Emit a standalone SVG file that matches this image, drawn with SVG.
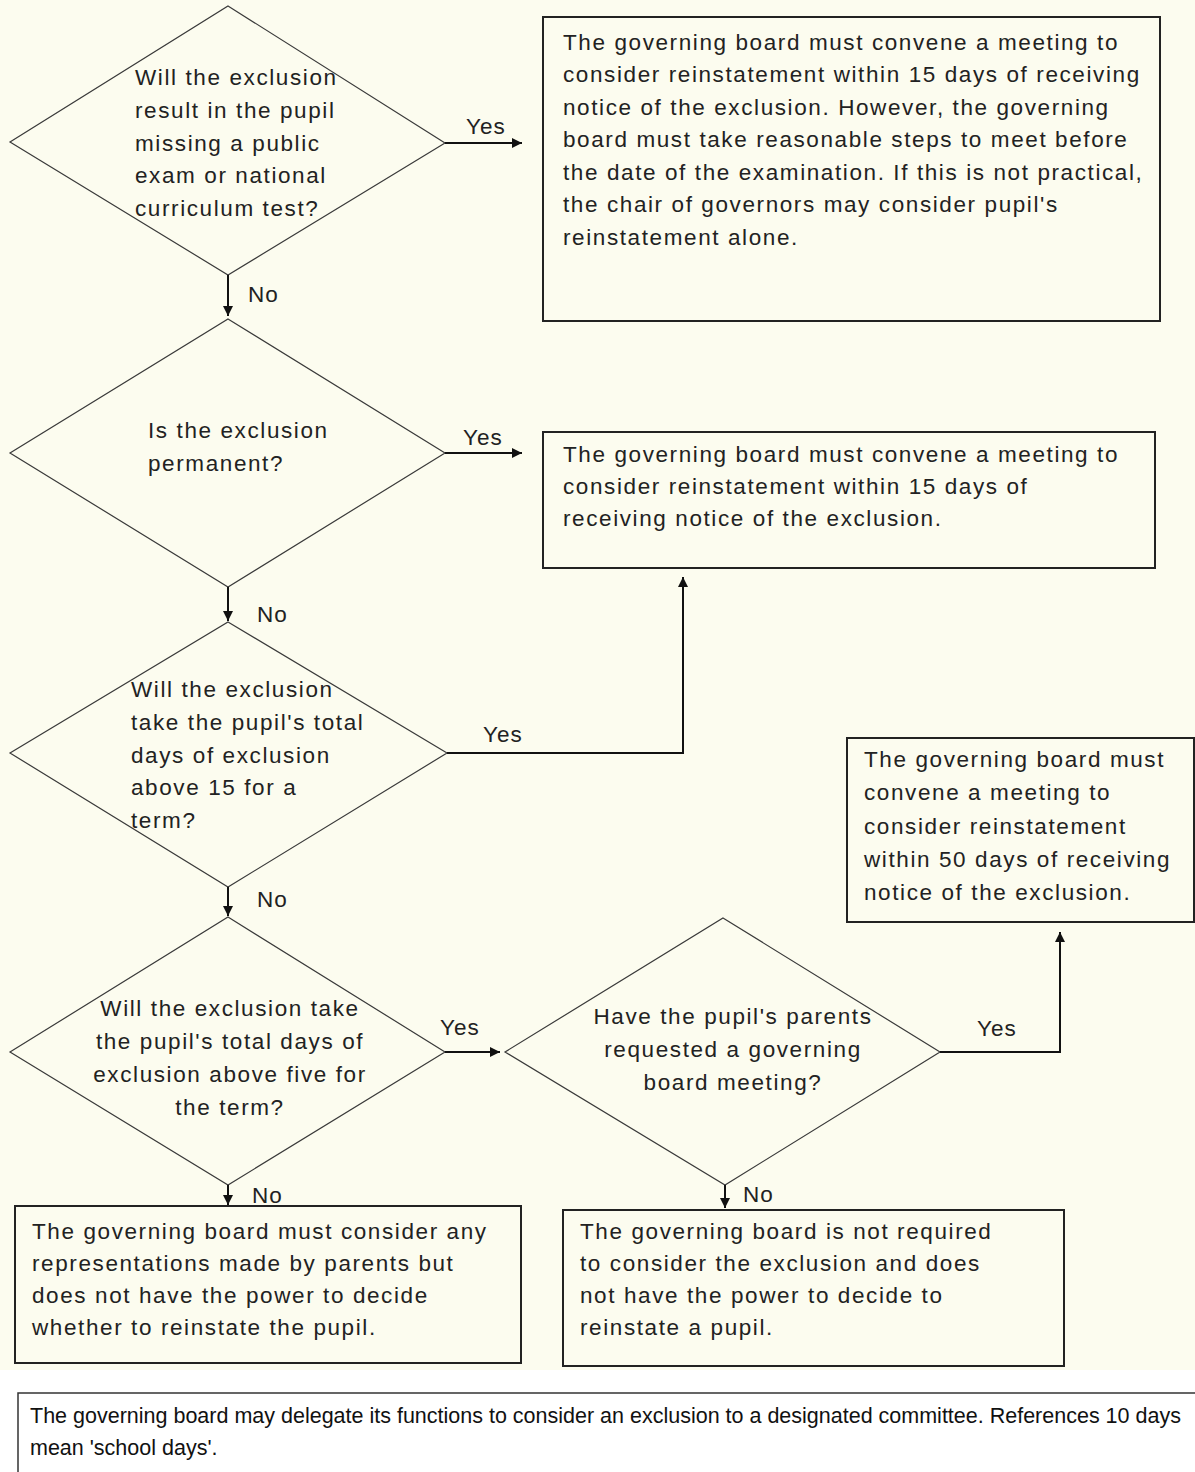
<svg xmlns="http://www.w3.org/2000/svg" width="1195" height="1472" viewBox="0 0 1195 1472">
<style>
.bg{fill:#fcfcef}
.dia{fill:none;stroke:#3a3a3a;stroke-width:1.2}
.box{fill:none;stroke:#222;stroke-width:2}
.t{font-family:"Liberation Sans",Arial,sans-serif;font-size:22.5px;letter-spacing:1.6px;fill:#222}
.c{text-anchor:middle}
.lbl{font-family:"Liberation Sans",Arial,sans-serif;font-size:22.5px;letter-spacing:1px;fill:#222}
.conn{fill:none;stroke:#111;stroke-width:2}
.note{font-family:"Liberation Sans",Arial,sans-serif;font-size:21.5px;fill:#111}
</style>
<defs>
<marker id="ah" viewBox="0 0 10 10" refX="10" refY="5" markerWidth="5.5" markerHeight="5" orient="auto" markerUnits="strokeWidth">
<path d="M0,0 L10,5 L0,10 z" fill="#111"/>
</marker>
</defs>
<rect x="0" y="0" width="1195" height="1472" fill="#ffffff"/>
<rect class="bg" x="0" y="0" width="1195" height="1370"/>

<g id="d1">
<polygon class="dia" points="228,6 445,143 228,275 10,142"/>
<text class="t" x="135" y="85">Will the exclusion</text>
<text class="t" x="135" y="118">result in the pupil</text>
<text class="t" x="135" y="151">missing a public</text>
<text class="t" x="135" y="183">exam or national</text>
<text class="t" x="135" y="216">curriculum test?</text>
</g>

<g id="b1">
<rect class="box" x="543" y="17" width="617" height="304"/>
<text class="t" x="563" y="50">The governing board must convene a meeting to</text>
<text class="t" x="563" y="82">consider reinstatement within 15 days of receiving</text>
<text class="t" x="563" y="115">notice of the exclusion. However, the governing</text>
<text class="t" x="563" y="147">board must take reasonable steps to meet before</text>
<text class="t" x="563" y="180">the date of the examination. If this is not practical,</text>
<text class="t" x="563" y="212">the chair of governors may consider pupil's</text>
<text class="t" x="563" y="245">reinstatement alone.</text>
</g>

<g id="d2">
<polygon class="dia" points="228,319 445,453 228,587 10,453"/>
<text class="t" x="148" y="438">Is the exclusion</text>
<text class="t" x="148" y="471">permanent?</text>
</g>

<g id="b2">
<rect class="box" x="543" y="432" width="612" height="136"/>
<text class="t" x="563" y="462">The governing board must convene a meeting to</text>
<text class="t" x="563" y="494">consider reinstatement within 15 days of</text>
<text class="t" x="563" y="526">receiving notice of the exclusion.</text>
</g>

<g id="d3">
<polygon class="dia" points="228,622 447,753 228,887 10,753"/>
<text class="t" x="131" y="697">Will the exclusion</text>
<text class="t" x="131" y="730">take the pupil's total</text>
<text class="t" x="131" y="763">days of exclusion</text>
<text class="t" x="131" y="795">above 15 for a</text>
<text class="t" x="131" y="828">term?</text>
</g>

<g id="b4">
<rect class="box" x="847" y="738" width="347" height="184"/>
<text class="t" x="864" y="767">The governing board must</text>
<text class="t" x="864" y="800">convene a meeting to</text>
<text class="t" x="864" y="834">consider reinstatement</text>
<text class="t" x="864" y="867">within 50 days of receiving</text>
<text class="t" x="864" y="900">notice of the exclusion.</text>
</g>

<g id="d4">
<polygon class="dia" points="228,917 445,1052 228,1185 10,1052"/>
<text class="t c" x="230" y="1016">Will the exclusion take</text>
<text class="t c" x="230" y="1049">the pupil's total days of</text>
<text class="t c" x="230" y="1082">exclusion above five for</text>
<text class="t c" x="230" y="1115">the term?</text>
</g>

<g id="d5">
<polygon class="dia" points="723,918 940,1052 725,1185 505,1052"/>
<text class="t c" x="733" y="1024">Have the pupil's parents</text>
<text class="t c" x="733" y="1057">requested a governing</text>
<text class="t c" x="733" y="1090">board meeting?</text>
</g>

<g id="b6">
<rect class="box" x="15" y="1206" width="506" height="157"/>
<text class="t" x="32" y="1239">The governing board must consider any</text>
<text class="t" x="32" y="1271">representations made by parents but</text>
<text class="t" x="32" y="1303">does not have the power to decide</text>
<text class="t" x="32" y="1335">whether to reinstate the pupil.</text>
</g>

<g id="b5">
<rect class="box" x="563" y="1210" width="501" height="156"/>
<text class="t" x="580" y="1239">The governing board is not required</text>
<text class="t" x="580" y="1271">to consider the exclusion and does</text>
<text class="t" x="580" y="1303">not have the power to decide to</text>
<text class="t" x="580" y="1335">reinstate a pupil.</text>
</g>

<g id="connectors">
<path class="conn" d="M445,143 H522" marker-end="url(#ah)"/>
<path class="conn" d="M228,275 V316" marker-end="url(#ah)"/>
<path class="conn" d="M445,453 H522" marker-end="url(#ah)"/>
<path class="conn" d="M228,587 V621" marker-end="url(#ah)"/>
<path class="conn" d="M447,753 H683 V577" marker-end="url(#ah)"/>
<path class="conn" d="M228,887 V916" marker-end="url(#ah)"/>
<path class="conn" d="M445,1052 H500" marker-end="url(#ah)"/>
<path class="conn" d="M940,1052 H1060 V932" marker-end="url(#ah)"/>
<path class="conn" d="M228,1185 V1205" marker-end="url(#ah)"/>
<path class="conn" d="M725,1185 V1208" marker-end="url(#ah)"/>
<text class="lbl" x="466" y="134">Yes</text>
<text class="lbl" x="248" y="302">No</text>
<text class="lbl" x="463" y="445">Yes</text>
<text class="lbl" x="257" y="622">No</text>
<text class="lbl" x="483" y="742">Yes</text>
<text class="lbl" x="257" y="907">No</text>
<text class="lbl" x="440" y="1035">Yes</text>
<text class="lbl" x="977" y="1036">Yes</text>
<text class="lbl" x="252" y="1203">No</text>
<text class="lbl" x="743" y="1202">No</text>
</g>

<g id="note">
<rect x="18" y="1393" width="1200" height="100" fill="#ffffff" stroke="#333" stroke-width="1.5"/>
<text class="note" x="30" y="1423">The governing board may delegate its functions to consider an exclusion to a designated committee. References 10 days</text>
<text class="note" x="30" y="1455">mean 'school days'.</text>
</g>
</svg>
